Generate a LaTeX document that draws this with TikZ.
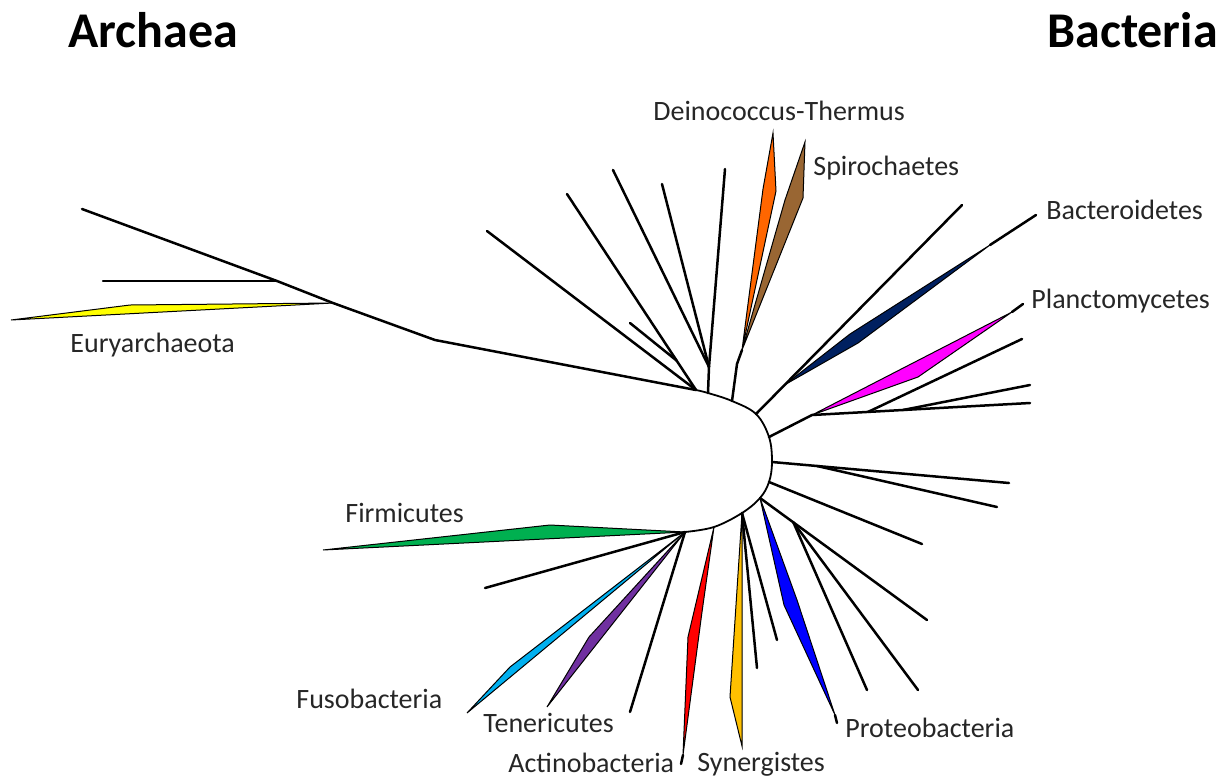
\documentclass[tikz,border=0pt]{standalone}
\usepackage{fontspec}
\setmainfont{Carlito}
\usetikzlibrary{calc}
\definecolor{cyel}{HTML}{FFFF00}
\definecolor{corange}{HTML}{FF6600}
\definecolor{cbrown}{HTML}{996633}
\definecolor{cnavy}{HTML}{002060}
\definecolor{cmag}{HTML}{FF00FF}
\definecolor{cgreen}{HTML}{00B050}
\definecolor{ccyan}{HTML}{00B0F0}
\definecolor{cpurple}{HTML}{7030A0}
\definecolor{cred}{HTML}{FF0000}
\definecolor{cgold}{HTML}{FFC000}
\definecolor{cblue}{HTML}{0000FF}
\definecolor{ctext}{HTML}{262626}
\tikzset{
  br/.style={line width=1.25pt, line cap=round, line join=round},
  arcl/.style={line width=0.9pt},
  clade/.style={draw=black, line width=0.5pt, line join=miter},
  lab/.style={font=\fontsize{14}{17}\selectfont, text=ctext, inner sep=0pt, anchor=base west},
  dom/.style={font=\bfseries\fontsize{25}{30}\selectfont, text=black, inner sep=0pt, anchor=base west}
}
\begin{document}
\begin{tikzpicture}[x=0.5pt,y=-0.5pt]
\useasboundingbox (0,0) rectangle (1223,778);

% ---------- Archaea ----------
\coordinate (AL) at (82,209);
\coordinate (AH) at (277,281);
\coordinate (AY) at (333,303);
\coordinate (A1) at (435,340);
\coordinate (AHe) at (103,281);
\coordinate (AYb) at (130,305);
\coordinate (AYt) at (11,320);

% ---------- central arc junctions ----------
\coordinate (J0) at (696,390);
\coordinate (J1) at (708,393);
\coordinate (J2) at (732,401);
\coordinate (J3) at (756,414);
\coordinate (J4) at (769,437);
\coordinate (K5) at (772,462);
\coordinate (K4) at (769,482);
\coordinate (K3) at (760,498);
\coordinate (K2) at (742,513);
\coordinate (K1) at (714,527);
\coordinate (K0) at (685,532);

% ---------- upper-left leaves ----------
\coordinate (La) at (487,231);
\coordinate (Lb) at (567,194);
\coordinate (Lc) at (630,323);
\coordinate (Ld) at (613,170);
\coordinate (Le) at (662,184);
\coordinate (Lf) at (725,169);
\coordinate (F0) at (709,367);
\coordinate (Bc) at ($(Lb)!0.85!(J0)$);

% ---------- Deinococcus / Spirochaetes ----------
\coordinate (S0) at (737,364);
\coordinate (SB) at (742,350);

% ---------- upper right ----------
\coordinate (U1) at (962,205);
\coordinate (N0) at ($(J3)!0.14!(U1)$);
\coordinate (NT) at (990,245);
\coordinate (Bt) at (1036,215);
\coordinate (P0) at (812,415);
\coordinate (P3) at (1030,403);
\coordinate (P1) at ($(P0)!0.257!(P3)$);
\coordinate (P2) at ($(P0)!0.417!(P3)$);
\coordinate (P1e) at (1022,339);
\coordinate (P2e) at (1030,385);
\coordinate (MT) at (1012,312);
\coordinate (Pt) at (1023,304);

% ---------- lower right ----------
\coordinate (R1) at (1009,483);
\coordinate (Q1) at ($(K5)!0.19!(R1)$);
\coordinate (R2) at (997,507);
\coordinate (R3) at (922,544);
\coordinate (R4) at (927,620);
\coordinate (Q2) at ($(K3)!0.2!(R4)$);
\coordinate (R5) at (918,690);
\coordinate (R6) at (867,690);
\coordinate (BT) at (835,715);
\coordinate (Bte) at (837,723);
\coordinate (Y1) at (777,640);
\coordinate (Y2) at (757,668);
\coordinate (RT) at (683,755);
\coordinate (RTe) at (681,764);

% ---------- lower left ----------
\coordinate (G1) at (485,588);
\coordinate (G2) at (630,712);

% ================= coloured clades =================
\filldraw[clade, fill=cyel] (AY) -- (AYb) -- (AYt) -- cycle;
\filldraw[clade, fill=corange] (773,133) -- (776,191) -- (SB) -- (763,189) -- cycle;
\filldraw[clade, fill=cbrown] (805,142) -- (803,198) -- (SB) -- (785,200) -- cycle;
\filldraw[clade, fill=cnavy] (N0) -- (850,334) -- (NT) -- (858,343) -- cycle;
\filldraw[clade, fill=cmag] (P0) -- (MT) -- (918,377) -- cycle;
\filldraw[clade, fill=cblue] (K3) -- (797,600) -- (BT) -- (784,605) -- cycle;
\filldraw[clade, fill=cgold] (K2) -- (742,746) -- (730,697) -- cycle;
\filldraw[clade, fill=cred] (K1) -- (702,612) -- (RT) -- (688,637) -- cycle;
\filldraw[clade, fill=cgreen] (K0) -- (550,525) -- (323,550) -- cycle;
\filldraw[clade, fill=ccyan] (K0) -- (510,667) -- (467,713) -- cycle;
\filldraw[clade, fill=cpurple] (K0) -- (589,637) -- (547,707) -- cycle;

% ================= branches =================
\draw[br] (AL) -- (AH) -- (AY) -- (A1) -- (J0);
\draw[br] (AHe) -- (AH);
\draw[br] (La) -- (J0);
\draw[br] (Lb) -- (J0);
\draw[br] (Lc) -- (Bc);
\draw[br] (Lf) -- (F0) -- (J1);
\draw[br] (Ld) -- (F0);
\draw[br] (Le) -- (F0);
\draw[br] (J2) -- (S0) -- (SB);
\draw[br] (J3) -- (U1);
\draw[br] (NT) -- (Bt);
\draw[br] (J4) -- (P0) -- (P3);
\draw[br] (P1) -- (P1e);
\draw[br] (P2) -- (P2e);
\draw[br] (MT) -- (Pt);
\draw[br] (K5) -- (R1);
\draw[br] (Q1) -- (R2);
\draw[br] (K4) -- (R3);
\draw[br] (K3) -- (R4);
\draw[br] (Q2) -- (R5);
\draw[br] (Q2) -- (R6);
\draw[br] (BT) -- (Bte);
\draw[br] (K2) -- (Y1);
\draw[br] (K2) -- (Y2);
\draw[br] (RT) -- (RTe);
\draw[br] (K0) -- (G1);
\draw[br] (K0) -- (G2);

% central arc
\draw[arcl] plot[smooth, tension=0.6] coordinates {(J0) (J1) (J2) (J3) (J4) (K5) (K4) (K3) (K2) (K1) (K0)};

% ================= labels =================
\node[dom] (archaea) at (68,47) {Archaea};
\node[dom] (bacteria) at (1047,47) {Bacteria};
\node[lab] (eury) at (70,352) {Euryarchaeota};
\node[lab] (deino) at (653,120) {Deinococcus-Thermus};
\node[lab] (spiro) at (813,175) {Spirochaetes};
\node[lab] (bacter) at (1046,219) {Bacteroidetes};
\node[lab] (plancto) at (1031,308) {Planctomycetes};
\node[lab] (firm) at (345,522) {Firmicutes};
\node[lab] (fuso) at (296,708) {Fusobacteria};
\node[lab] (tener) at (483,732) {Tenericutes};
\node[lab] (actino) at (508,772) {Actinobacteria};
\node[lab] (syner) at (697,771) {Synergistes};
\node[lab] (proteo) at (845,737) {Proteobacteria};
\end{tikzpicture}
\end{document}
